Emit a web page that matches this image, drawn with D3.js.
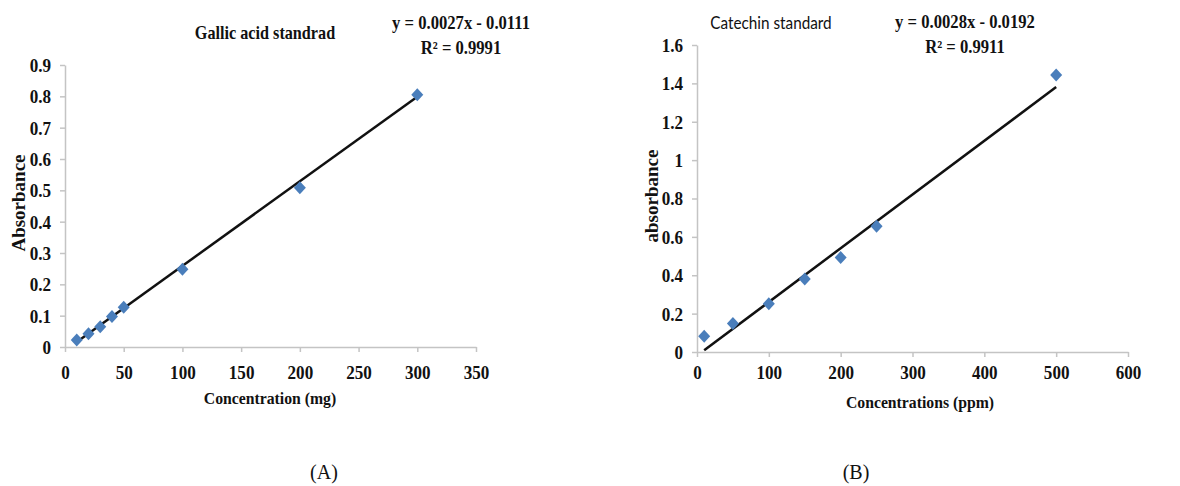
<!DOCTYPE html>
<html>
<head>
<meta charset="utf-8">
<script src="https://cdn.jsdelivr.net/npm/d3@7/dist/d3.min.js"></script>
<style>
  html, body { margin: 0; padding: 0; background: #fff; }
  svg { display: block; }
</style>
</head>
<body>
<svg id="chart" width="1180" height="486"></svg>
<script>
// ---- Data: Panel A (Gallic acid) ----
const gallicConc = [10, 20, 30, 40, 50, 100, 200, 300];
const gallicAbs  = [0.022, 0.042, 0.065, 0.097, 0.127, 0.248, 0.508, 0.805];
const gallicFit  = [0.0027, -0.0111]; // slope, intercept
const gallicXTicks = [0, 50, 100, 150, 200, 250, 300, 350];
const gallicYTicks = [0, 0.1, 0.2, 0.3, 0.4, 0.5, 0.6, 0.7, 0.8, 0.9];
const gallicYLabels = ["0", "0.1", "0.2", "0.3", "0.4", "0.5", "0.6", "0.7", "0.8", "0.9"];

// ---- Data: Panel B (Catechin) ----
const catConc = [10, 50, 100, 150, 200, 250, 500];
const catAbs  = [0.082, 0.148, 0.252, 0.381, 0.492, 0.655, 1.443];
const catFit  = [0.0028, -0.0192];
const catXTicks = [0, 100, 200, 300, 400, 500, 600];
const catYTicks = [0, 0.2, 0.4, 0.6, 0.8, 1.0, 1.2, 1.4, 1.6];
const catYLabels = ["0", "0.2", "0.4", "0.6", "0.8", "1", "1.2", "1.4", "1.6"];

const svg = d3.select("#chart");
const serif = "'Liberation Serif', 'Times New Roman', serif";
const axisColor = "#c4c4c4";
const markerColor = "#4a7ebb";
const SQ = 0.9; // horizontal squash of the source image's text

function panel(cfg) {
  const x = d3.scaleLinear().domain(cfg.xDomain).range(cfg.xRange);
  const y = d3.scaleLinear().domain(cfg.yDomain).range(cfg.yRange);
  const g = svg.append("g");

  // x axis
  const xa = g.append("g")
    .attr("transform", `translate(0,${cfg.yRange[0]})`)
    .call(d3.axisBottom(x).tickValues(cfg.xTicks).tickSize(5).tickSizeOuter(0).tickFormat(d3.format("d")));
  xa.select(".domain").attr("stroke", axisColor).attr("stroke-width", 1.5);
  xa.selectAll(".tick line").attr("stroke", axisColor).attr("stroke-width", 1.5);
  xa.selectAll(".tick text")
    .attr("y", cfg.xLabelOffset).attr("dy", 0)
    .attr("transform", `scale(${SQ},1)`)
    .attr("fill", "#111")
    .style("font-family", serif).style("font-size", "19px").style("font-weight", "bold");

  // y axis
  const ya = g.append("g")
    .attr("transform", `translate(${cfg.xRange[0]},0)`)
    .call(d3.axisLeft(y).tickValues(cfg.yTicks).tickSize(5).tickSizeOuter(0)
      .tickFormat((d, i) => cfg.yLabels[i]));
  ya.select(".domain").attr("stroke", axisColor).attr("stroke-width", 1.5);
  ya.selectAll(".tick line").attr("stroke", axisColor).attr("stroke-width", 1.5);
  ya.selectAll(".tick text")
    .attr("x", -14 / SQ).attr("dy", "0.34em")
    .attr("transform", `scale(${SQ},1)`)
    .attr("fill", "#111")
    .style("font-family", serif).style("font-size", "19px").style("font-weight", "bold");

  // trend line
  const x0 = d3.min(cfg.xs), x1 = d3.max(cfg.xs);
  const fitPts = [x0, x1].map(v => [v, cfg.fit[0] * v + cfg.fit[1]]);
  g.append("path")
    .datum(fitPts)
    .attr("fill", "none").attr("stroke", "#111").attr("stroke-width", 2.5)
    .attr("d", d3.line().x(d => x(d[0])).y(d => y(d[1])));

  // markers (diamonds)
  g.selectAll("path.pt")
    .data(cfg.xs.map((v, i) => [v, cfg.ys[i]]))
    .join("path")
    .attr("class", "pt")
    .attr("transform", d => `translate(${x(d[0])},${y(d[1])})`)
    .attr("d", "M0,-6.5L6,0L0,6.5L-6,0Z")
    .attr("fill", markerColor);

  function label(pos, txt, font, size, weight) {
    return g.append("text")
      .attr("transform", `translate(${pos[0]},${pos[1]}) scale(${SQ},1)`)
      .attr("text-anchor", "middle")
      .style("font-family", font).style("font-size", size).style("font-weight", weight)
      .attr("fill", "#111")
      .text(txt);
  }

  // x-axis title
  label(cfg.xTitlePos, cfg.xTitle, serif, "17.5px", "bold");

  // y-axis title
  g.append("text")
    .attr("transform", `translate(${cfg.yTitlePos[0]},${cfg.yTitlePos[1]}) rotate(-90)`)
    .attr("text-anchor", "middle")
    .style("font-family", serif).style("font-size", "19px").style("font-weight", "bold")
    .attr("fill", "#111")
    .text(cfg.yTitle);

  // chart title
  label(cfg.titlePos, cfg.title, cfg.titleFont, cfg.titleSize, cfg.titleWeight);

  // equation (two lines)
  label([cfg.eqPos[0], cfg.eqPos[1]], cfg.eq1, serif, "18.5px", "bold");
  label([cfg.eqPos[0], cfg.eqPos[2]], cfg.eq2, serif, "18.5px", "bold");

  // panel label
  g.append("text")
    .attr("x", cfg.labelPos[0]).attr("y", cfg.labelPos[1])
    .attr("text-anchor", "middle")
    .style("font-family", serif).style("font-size", "20px")
    .attr("fill", "#111")
    .text(cfg.label);
}

panel({
  xDomain: [0, 350], xRange: [65, 476],
  yDomain: [0, 0.9], yRange: [347, 65],
  xTicks: gallicXTicks, yTicks: gallicYTicks, yLabels: gallicYLabels, xLabelOffset: 32,
  xs: gallicConc, ys: gallicAbs, fit: gallicFit,
  xTitle: "Concentration (mg)", xTitlePos: [270, 404],
  yTitle: "Absorbance", yTitlePos: [25, 203],
  title: "Gallic acid standrad", titlePos: [265, 39],
  titleFont: serif, titleSize: "18px", titleWeight: "bold",
  eq1: "y = 0.0027x - 0.0111", eq2: "R² = 0.9991", eqPos: [461, 29, 54],
  label: "(A)", labelPos: [324, 479]
});

panel({
  xDomain: [0, 600], xRange: [697, 1128],
  yDomain: [0, 1.6], yRange: [352, 45],
  xTicks: catXTicks, yTicks: catYTicks, yLabels: catYLabels, xLabelOffset: 27,
  xs: catConc, ys: catAbs, fit: catFit,
  xTitle: "Concentrations (ppm)", xTitlePos: [920, 408],
  yTitle: "absorbance", yTitlePos: [658, 196],
  title: "Catechin standard", titlePos: [771, 29],
  titleFont: "Lato, 'Open Sans', sans-serif", titleSize: "17px", titleWeight: "normal",
  eq1: "y = 0.0028x - 0.0192", eq2: "R² = 0.9911", eqPos: [965, 28, 53],
  label: "(B)", labelPos: [856, 479]
});
</script>
</body>
</html>
